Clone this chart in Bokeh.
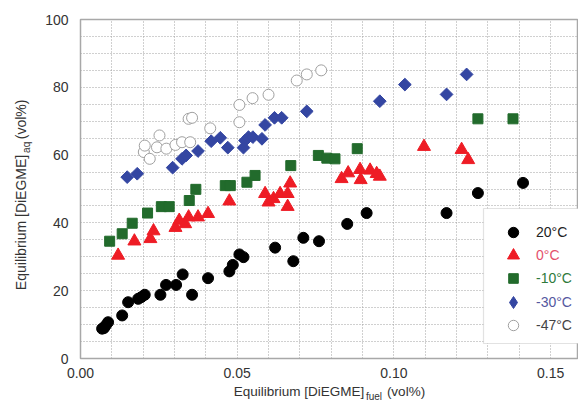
import numpy as np
from bokeh.plotting import figure
from bokeh.models import (FixedTicker, Legend, LegendItem, BoxAnnotation, LinearAxis,
                          Range1d, NumeralTickFormatter)
from bokeh.embed import file_html
from bokeh.resources import INLINE

# ---- data ----
x20 = [0.0069, 0.0075, 0.0080, 0.0088, 0.0133, 0.0152, 0.0184, 0.0194, 0.0205, 0.0255,
       0.0273, 0.0305, 0.0326, 0.0356, 0.0407, 0.0475, 0.0486, 0.0507, 0.0520, 0.0621,
       0.0679, 0.0711, 0.0761, 0.0851, 0.0913, 0.1168, 0.1268, 0.1412]
y20 = [8.8, 9.0, 9.7, 10.7, 12.7, 16.6, 17.6, 18.1, 18.8, 18.8,
       21.7, 21.7, 24.8, 18.8, 23.7, 25.7, 27.6, 30.7, 29.9, 32.7,
       28.7, 35.6, 34.6, 39.7, 42.9, 42.9, 48.8, 51.8]

x0 = [0.0120, 0.0172, 0.0223, 0.0233, 0.0303, 0.0315, 0.0334, 0.0345, 0.0375, 0.0407,
      0.0475, 0.0589, 0.0600, 0.0616, 0.0637, 0.0661, 0.0669, 0.0661, 0.0833, 0.0854,
      0.0892, 0.0894, 0.0924, 0.0945, 0.0955, 0.1096, 0.1216, 0.1237]
y0 = [30.4, 34.6, 35.3, 37.6, 38.6, 40.7, 39.7, 41.7, 41.7, 42.7,
      46.4, 48.6, 46.1, 47.1, 48.6, 48.6, 51.7, 44.8, 53.0, 54.7,
      55.7, 52.7, 55.5, 54.5, 53.7, 62.5, 61.6, 58.6]

xm10 = [0.0093, 0.0133, 0.0165, 0.0214, 0.0258, 0.0283, 0.0347, 0.0368, 0.0462, 0.0478,
        0.0531, 0.0557, 0.0671, 0.0759, 0.0786, 0.0812, 0.0883, 0.1268, 0.1380]
ym10 = [34.6, 36.8, 39.9, 42.9, 44.8, 44.8, 46.6, 49.9, 51.0, 51.0,
        52.0, 54.0, 56.9, 59.9, 59.1, 58.9, 61.9, 70.7, 70.7]

xm30 = [0.0149, 0.0181, 0.0294, 0.0324, 0.0337, 0.0375, 0.0417, 0.0446, 0.0470, 0.0520,
        0.0525, 0.0536, 0.0550, 0.0579, 0.0589, 0.0619, 0.0642, 0.0722, 0.0955, 0.1035,
        0.1168, 0.1232]
ym30 = [53.5, 54.5, 56.3, 58.9, 59.9, 61.2, 64.1, 65.1, 62.2, 62.2,
        64.3, 65.3, 65.3, 64.8, 68.9, 71.0, 71.0, 72.9, 75.9, 80.8,
        77.9, 83.8]

xm47 = [0.0202, 0.0205, 0.0221, 0.0244, 0.0252, 0.0274, 0.0303, 0.0324, 0.0350, 0.0345,
        0.0356, 0.0414, 0.0507, 0.0507, 0.0549, 0.0600, 0.0690, 0.0722, 0.0768]
ym47 = [60.9, 62.8, 58.9, 62.3, 65.8, 61.9, 63.0, 63.8, 63.8, 70.7,
        71.0, 67.9, 69.7, 74.8, 76.8, 77.8, 82.0, 83.8, 85.0]

series_labels = ["20°C", "0°C", "-10°C", "-30°C", "-47°C"]
x_ticks = [0.0, 0.05, 0.10, 0.15]
y_ticks = [0, 20, 40, 60, 80, 100]

FONT = "Liberation Sans"
BLUE = "#3446a2"
NB = "\u00a0"

p = figure(width=578, height=409, output_backend="svg", toolbar_location=None,
           x_range=Range1d(0, 0.1589), y_range=Range1d(0, 100),
           min_border_left=80, min_border_right=0, min_border_top=19, min_border_bottom=51)

p.outline_line_color = "#a8a8a8"
p.outline_line_width = 1.5
p.background_fill_color = "white"

for ax in (p.xaxis[0], p.yaxis[0]):
    ax.axis_line_color = None
    ax.major_tick_line_color = None
    ax.minor_tick_line_color = None
    ax.major_tick_out = 0
    ax.major_tick_in = 0
    ax.minor_tick_out = 0
    ax.minor_tick_in = 0
    ax.major_label_text_font = FONT
    ax.major_label_text_font_size = "14px"
    ax.major_label_text_color = "#333333"
    ax.axis_label_text_font = FONT
    ax.axis_label_text_font_style = "normal"
    ax.axis_label_text_color = "#333333"

p.xaxis.major_label_standoff = 9
p.yaxis.major_label_standoff = 12

p.xaxis.ticker = FixedTicker(ticks=x_ticks)
p.xaxis.formatter = NumeralTickFormatter(format="0.00")
p.yaxis.ticker = FixedTicker(ticks=y_ticks)

# main axis titles (gaps left for the subscripts)
p.xaxis.axis_label = "Equilibrium [DiEGME]" + NB * 6 + "(vol%)"
p.xaxis.axis_label_text_font_size = "13.5px"
p.xaxis.axis_label_standoff = 3
p.yaxis.axis_label = "Equilibrium [DiEGME]" + NB * 4 + "(vol%)" + NB * 3
p.yaxis.axis_label_text_font_size = "14px"
p.yaxis.axis_label_standoff = 13


def sub_axis(text, standoff):
    a = LinearAxis(ticker=FixedTicker(ticks=[0]), axis_line_color=None,
                   major_tick_line_color=None, minor_tick_line_color=None,
                   major_tick_out=0, major_tick_in=0, minor_tick_out=0, minor_tick_in=0,
                   major_label_text_font_size="1px", major_label_text_alpha=0.0,
                   major_label_standoff=0,
                   axis_label=text, axis_label_text_font=FONT,
                   axis_label_text_font_style="normal", axis_label_text_color="#333333",
                   axis_label_text_font_size="10px", axis_label_standoff=standoff)
    return a


p.add_layout(sub_axis(NB * 32 + "fuel", -11), "below")
p.add_layout(sub_axis(NB * 30 + "aq", -21), "left")

p.xgrid.ticker = FixedTicker(ticks=[round(0.01 * i, 2) for i in range(0, 16)])
p.ygrid.ticker = FixedTicker(ticks=list(range(0, 101, 5)))
for g in (p.xgrid[0], p.ygrid[0]):
    g.grid_line_color = "#a0a0a0"
    g.grid_line_dash = "1 2"
    g.grid_line_width = 1

r47 = p.scatter(xm47, ym47, marker="circle", size=11, fill_color="white",
                line_color="#a0a0a0", line_width=1)
r30 = p.scatter(xm30, ym30, marker="square", angle=np.pi / 4, size=9,
                fill_color=BLUE, line_color=BLUE)
r10 = p.scatter(xm10, ym10, marker="square", size=10,
                fill_color="#226b2c", line_color="#226b2c")
r0 = p.scatter(x0, y0, marker="triangle", size=13,
               fill_color="#ee1c25", line_color="#ee1c25")
r20 = p.scatter(x20, y20, marker="circle", size=11,
                fill_color="black", line_color="black")
# legend-only proxy (NaN point is never drawn) so the legend shows a diamond
r30_leg = p.scatter(np.array([np.nan]), np.array([np.nan]), marker="diamond", size=10,
                    fill_color=BLUE, line_color=BLUE)

# legend box
box = BoxAnnotation(left=403, right=620, top=150, bottom=15,
                    left_units="screen", right_units="screen",
                    top_units="screen", bottom_units="screen",
                    fill_color="white", fill_alpha=1.0,
                    line_color="#a0a0a0", line_width=1.2)
p.add_layout(box)

leg_colors = ["#222222", "#e4506c", "#2f7a3c", "#55589f", "#444444"]
leg_renderers = [r20, r0, r10, r30_leg, r47]
leg_glyph = [26, 30, 24, 30, 26]
leg_centers = [126.3, 103.0, 79.7, 56.3, 33.0]  # from frame bottom
MX, TX = 433, 456  # marker centre / text start, from frame left
for lab, col, rr, cy, gw in zip(series_labels, leg_colors, leg_renderers, leg_centers, leg_glyph):
    lg = Legend(items=[LegendItem(label=lab, renderers=[rr])],
                location=(MX - gw / 2, cy - gw / 2), padding=0, margin=0, spacing=0,
                glyph_width=gw, glyph_height=gw, label_height=gw,
                label_standoff=int(TX - (MX + gw / 2)), border_line_color=None,
                background_fill_alpha=0.0,
                label_text_color=col, label_text_font=FONT,
                label_text_font_size="14px")
    p.add_layout(lg)

open("out.html", "w").write(file_html(p, INLINE))
